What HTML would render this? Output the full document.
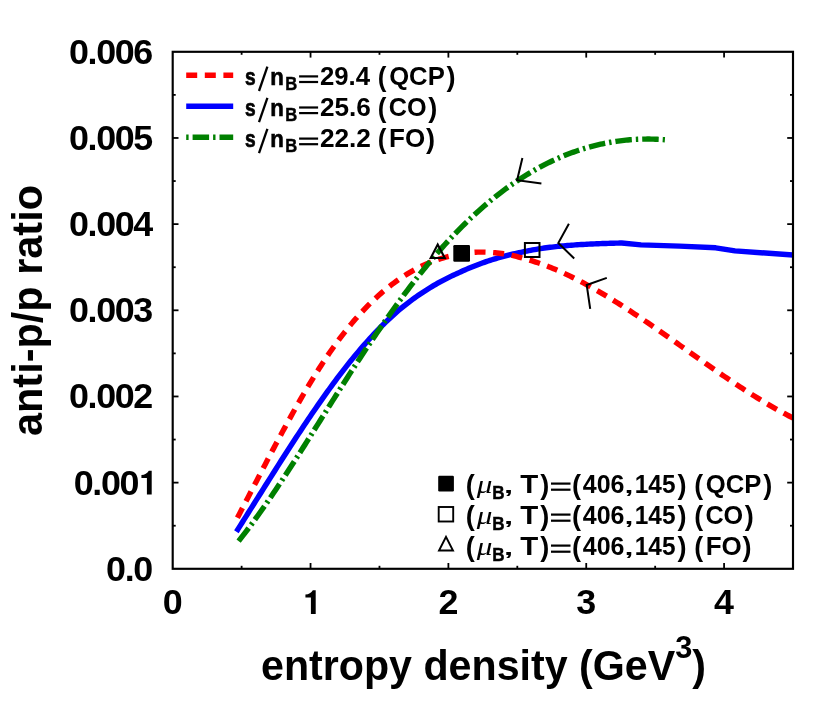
<!DOCTYPE html>
<html><head><meta charset="utf-8"><title>anti-p/p ratio vs entropy density</title>
<style>
html,body{margin:0;padding:0;background:#fff;}
body{width:830px;height:726px;overflow:hidden;font-family:"Liberation Sans",sans-serif;}
svg{display:block;will-change:transform;}
svg text{font-family:"Liberation Sans",sans-serif;font-weight:bold;fill:#000;}
</style></head>
<body>
<svg width="830" height="726" viewBox="0 0 830 726">
<rect x="0" y="0" width="830" height="726" fill="#fff"/>
<!-- curves -->
<defs><clipPath id="plotclip"><rect x="172.7" y="51.8" width="620.3" height="517.0"/></clipPath></defs>
<g fill="none" stroke-linejoin="round" clip-path="url(#plotclip)">
<path d="M236.40,531.71 L238.34,528.64 L240.27,525.58 L242.21,522.51 L244.14,519.43 L246.08,516.36 L248.02,513.28 L249.95,510.19 L251.89,507.11 L253.83,504.03 L255.76,500.94 L257.70,497.86 L259.63,494.77 L261.57,491.69 L263.51,488.61 L265.44,485.53 L267.38,482.46 L269.32,479.39 L271.25,476.32 L273.19,473.26 L275.12,470.20 L277.06,467.15 L279.00,464.10 L280.93,461.06 L282.87,458.03 L284.80,455.01 L286.74,452.00 L288.68,448.99 L290.61,446.00 L292.55,443.01 L294.49,440.04 L296.42,437.07 L298.36,434.12 L300.29,431.18 L302.23,428.26 L304.17,425.35 L306.10,422.45 L308.04,419.57 L309.97,416.70 L311.91,413.85 L313.85,411.01 L315.78,408.19 L317.72,405.39 L319.66,402.61 L321.59,399.85 L323.53,397.10 L325.46,394.38 L327.40,391.67 L329.34,388.99 L331.27,386.33 L333.21,383.69 L335.15,381.07 L337.08,378.47 L339.02,375.90 L340.95,373.36 L342.89,370.83 L344.83,368.34 L346.76,365.87 L348.70,363.42 L350.63,361.01 L352.57,358.62 L354.51,356.26 L356.44,353.92 L358.38,351.62 L360.32,349.34 L362.25,347.09 L364.19,344.87 L366.12,342.68 L368.06,340.52 L370.00,338.38 L371.93,336.28 L373.87,334.21 L375.81,332.16 L377.74,330.15 L379.68,328.16 L381.61,326.21 L383.55,324.29 L385.49,322.40 L387.42,320.54 L389.36,318.71 L391.29,316.91 L393.23,315.14 L395.17,313.40 L397.10,311.70 L399.04,310.02 L400.98,308.40 L402.91,306.83 L404.85,305.29 L406.78,303.78 L408.72,302.30 L410.66,300.85 L412.59,299.42 L414.53,298.02 L416.46,296.65 L418.40,295.30 L420.34,293.98 L422.27,292.69 L424.21,291.42 L426.15,290.17 L428.08,288.95 L430.02,287.76 L431.95,286.58 L433.89,285.43 L435.83,284.31 L437.76,283.20 L439.70,282.12 L441.64,281.07 L443.57,280.05 L445.51,279.05 L447.44,278.07 L449.38,277.11 L451.32,276.17 L453.25,275.26 L455.19,274.36 L457.12,273.48 L459.06,272.59 L461.00,271.69 L462.93,270.81 L464.87,269.95 L466.81,269.10 L468.74,268.28 L470.68,267.47 L472.61,266.69 L474.55,265.92 L476.49,265.17 L478.42,264.43 L480.36,263.72 L482.29,263.02 L484.23,262.34 L486.17,261.67 L488.10,261.02 L490.04,260.39 L491.98,259.77 L493.91,259.18 L495.85,258.59 L497.78,258.02 L499.72,257.47 L501.66,256.93 L503.59,256.41 L505.53,255.90 L507.47,255.40 L509.40,254.92 L511.34,254.46 L513.27,254.00 L515.21,253.56 L517.15,253.14 L519.08,252.72 L521.02,252.31 L522.95,251.89 L524.89,251.48 L526.83,251.09 L528.76,250.70 L530.70,250.33 L532.64,249.97 L534.57,249.63 L536.51,249.29 L538.44,248.96 L540.38,248.64 L542.32,248.34 L544.25,248.04 L546.19,247.77 L548.13,247.53 L550.06,247.29 L552.00,247.06 L553.93,246.84 L555.87,246.62 L557.81,246.42 L559.74,246.23 L561.68,246.04 L563.61,245.86 L565.55,245.69 L567.49,245.52 L569.42,245.37 L571.36,245.22 L573.30,245.07 L575.23,244.93 L577.17,244.80 L579.10,244.68 L581.04,244.56 L582.98,244.44 L584.91,244.34 L586.85,244.23 L588.78,244.13 L590.72,244.04 L592.66,243.95 L594.59,243.87 L596.53,243.78 L598.47,243.71 L600.40,243.63 L602.34,243.56 L604.27,243.49 L606.21,243.43 L608.15,243.37 L610.08,243.31 L612.02,243.25 L613.96,243.19 L615.89,243.14 L617.83,243.09 L619.76,243.03 L621.70,242.98 L641.00,244.90 L679.50,246.10 L715.70,247.80 L735.00,250.90 L793.40,255.00" stroke="#0000ff" stroke-width="5.4"/>
<path d="M237.40,517.82 L239.55,513.71 L241.69,509.59 L243.84,505.46 L245.99,501.32 L248.13,497.19 L250.28,493.05 L252.43,488.91 L254.57,484.78 L256.72,480.65 L258.87,476.52 L261.01,472.40 L263.16,468.28 L265.31,464.18 L267.45,460.08 L269.60,456.00 L271.75,451.93 L273.89,447.87 L276.04,443.84 L278.19,439.81 L280.33,435.81 L282.48,431.83 L284.63,427.88 L286.77,423.94 L288.92,420.03 L291.07,416.15 L293.21,412.30 L295.36,408.47 L297.51,404.68 L299.65,400.92 L301.80,397.20 L303.95,393.51 L306.09,389.85 L308.24,386.24 L310.39,382.67 L312.54,379.13 L314.68,375.64 L316.83,372.20 L318.98,368.80 L321.12,365.45 L323.27,362.15 L325.42,358.90 L327.56,355.70 L329.71,352.56 L331.86,349.47 L334.00,346.43 L336.15,343.45 L338.30,340.53 L340.44,337.66 L342.59,334.85 L344.74,332.09 L346.88,329.38 L349.03,326.73 L351.18,324.13 L353.32,321.58 L355.47,319.09 L357.62,316.65 L359.76,314.26 L361.91,311.92 L364.06,309.64 L366.20,307.40 L368.35,305.21 L370.50,303.08 L372.64,300.99 L374.79,298.96 L376.94,296.97 L379.08,295.03 L381.23,293.14 L383.38,291.30 L385.52,289.51 L387.67,287.76 L389.82,286.06 L391.96,284.41 L394.11,282.80 L396.26,281.24 L398.40,279.73 L400.55,278.26 L402.70,276.83 L404.84,275.45 L406.99,274.12 L409.14,272.82 L411.28,271.58 L413.43,270.37 L415.58,269.21 L417.72,268.09 L419.87,267.01 L422.02,265.98 L424.16,264.98 L426.31,264.03 L428.46,263.12 L430.60,262.25 L432.75,261.42 L434.90,260.63 L437.04,259.88 L439.19,259.16 L441.34,258.49 L443.48,257.85 L445.63,257.26 L447.78,256.70 L449.93,256.18 L452.07,255.69 L454.22,255.24 L456.37,254.80 L458.51,254.37 L460.66,253.98 L462.81,253.62 L464.95,253.29 L467.10,253.01 L469.25,252.75 L471.39,252.53 L473.54,252.35 L475.69,252.21 L477.83,252.14 L479.98,252.11 L482.13,252.11 L484.27,252.14 L486.42,252.20 L488.57,252.29 L490.71,252.42 L492.86,252.57 L495.01,252.76 L497.15,252.97 L499.30,253.22 L501.45,253.49 L503.59,253.79 L505.74,254.14 L507.89,254.55 L510.03,255.00 L512.18,255.46 L514.33,255.96 L516.47,256.48 L518.62,257.03 L520.77,257.61 L522.91,258.21 L525.06,258.83 L527.21,259.43 L529.35,260.05 L531.50,260.70 L533.65,261.37 L535.79,262.07 L537.94,262.78 L540.09,263.53 L542.23,264.29 L544.38,265.08 L546.53,265.89 L548.67,266.72 L550.82,267.57 L552.97,268.44 L555.11,269.34 L557.26,270.25 L559.41,271.19 L561.55,272.14 L563.70,273.11 L565.85,274.11 L567.99,275.12 L570.14,276.15 L572.29,277.20 L574.43,278.26 L576.58,279.34 L578.73,280.44 L580.87,281.56 L583.02,282.69 L585.17,283.84 L587.32,285.01 L589.46,286.19 L591.61,287.38 L593.76,288.59 L595.90,289.82 L598.05,291.05 L600.20,292.31 L602.34,293.57 L604.49,294.85 L606.64,296.14 L608.78,297.44 L610.93,298.76 L613.08,300.08 L615.22,301.42 L617.37,302.77 L619.52,304.13 L621.66,305.50 L623.81,306.88 L625.96,308.27 L628.10,309.66 L630.25,311.07 L632.40,312.49 L634.54,313.91 L636.69,315.34 L638.84,316.78 L640.98,318.23 L643.13,319.68 L645.28,321.14 L647.42,322.60 L649.57,324.08 L651.72,325.55 L653.86,327.03 L656.01,328.52 L658.16,330.01 L660.30,331.51 L662.45,333.01 L664.60,334.51 L666.74,336.02 L668.89,337.53 L671.04,339.04 L673.18,340.55 L675.33,342.07 L677.48,343.58 L679.62,345.10 L681.77,346.62 L683.92,348.14 L686.06,349.66 L688.21,351.18 L690.36,352.69 L692.50,354.21 L694.65,355.73 L696.80,357.24 L698.94,358.75 L701.09,360.26 L703.24,361.77 L705.38,363.27 L707.53,364.78 L709.68,366.27 L711.82,367.77 L713.97,369.25 L716.12,370.74 L718.26,372.22 L720.41,373.69 L722.56,375.16 L724.71,376.62 L726.85,378.08 L729.00,379.53 L731.15,380.97 L733.29,382.40 L735.44,383.83 L737.59,385.25 L739.73,386.66 L741.88,388.06 L744.03,389.46 L746.17,390.84 L748.32,392.21 L750.47,393.58 L752.61,394.93 L754.76,396.27 L756.91,397.60 L759.05,398.92 L761.20,400.23 L763.35,401.53 L765.49,402.81 L767.64,404.08 L769.79,405.34 L771.93,406.58 L774.08,407.81 L776.23,409.03 L778.37,410.23 L780.52,411.42 L782.67,412.59 L784.81,413.74 L786.96,414.88 L789.11,416.01 L791.25,417.11 L793.40,418.20" stroke="#ff0000" stroke-width="5.4" stroke-dasharray="11 7.6"/>
<path d="M238.60,541.07 L240.55,538.61 L242.49,536.13 L244.44,533.61 L246.39,531.07 L248.33,528.50 L250.28,525.90 L252.23,523.27 L254.17,520.62 L256.12,517.94 L258.07,515.24 L260.01,512.51 L261.96,509.76 L263.91,506.99 L265.85,504.20 L267.80,501.39 L269.75,498.55 L271.69,495.70 L273.64,492.83 L275.58,489.94 L277.53,487.04 L279.48,484.11 L281.42,481.17 L283.37,478.22 L285.32,475.25 L287.26,472.27 L289.21,469.28 L291.16,466.27 L293.10,463.26 L295.05,460.23 L297.00,457.19 L298.94,454.15 L300.89,451.09 L302.84,448.03 L304.78,444.96 L306.73,441.88 L308.68,438.80 L310.62,435.72 L312.57,432.63 L314.52,429.54 L316.46,426.44 L318.41,423.34 L320.36,420.25 L322.30,417.15 L324.25,414.05 L326.20,410.95 L328.14,407.86 L330.09,404.77 L332.04,401.68 L333.98,398.60 L335.93,395.52 L337.88,392.44 L339.82,389.38 L341.77,386.32 L343.72,383.26 L345.66,380.22 L347.61,377.18 L349.55,374.16 L351.50,371.14 L353.45,368.14 L355.39,365.15 L357.34,362.16 L359.29,359.19 L361.23,356.23 L363.18,353.29 L365.13,350.35 L367.07,347.43 L369.02,344.52 L370.97,341.62 L372.91,338.74 L374.86,335.87 L376.81,333.02 L378.75,330.18 L380.70,327.35 L382.65,324.54 L384.59,321.75 L386.54,318.97 L388.49,316.20 L390.43,313.46 L392.38,310.73 L394.33,308.02 L396.27,305.32 L398.22,302.64 L400.17,299.98 L402.11,297.34 L404.06,294.72 L406.01,292.12 L407.95,289.53 L409.90,286.97 L411.85,284.42 L413.79,281.90 L415.74,279.39 L417.68,276.91 L419.63,274.45 L421.58,272.01 L423.52,269.59 L425.47,267.19 L427.42,264.82 L429.36,262.46 L431.31,260.13 L433.26,257.83 L435.20,255.55 L437.15,253.29 L439.10,251.05 L441.04,248.85 L442.99,246.66 L444.94,244.50 L446.88,242.36 L448.83,240.25 L450.78,238.16 L452.72,236.10 L454.67,234.06 L456.62,232.04 L458.56,230.05 L460.51,228.08 L462.46,226.13 L464.40,224.21 L466.35,222.31 L468.30,220.44 L470.24,218.59 L472.19,216.76 L474.14,214.96 L476.08,213.17 L478.03,211.41 L479.98,209.68 L481.92,207.97 L483.87,206.28 L485.82,204.61 L487.76,202.97 L489.71,201.35 L491.65,199.75 L493.60,198.17 L495.55,196.62 L497.49,195.09 L499.44,193.58 L501.39,192.09 L503.33,190.63 L505.28,189.18 L507.23,187.76 L509.17,186.36 L511.12,184.99 L513.07,183.63 L515.01,182.30 L516.96,180.99 L518.91,179.70 L520.85,178.43 L522.80,177.19 L524.75,175.96 L526.69,174.76 L528.64,173.58 L530.59,172.42 L532.53,171.28 L534.48,170.16 L536.43,169.06 L538.37,167.99 L540.32,166.93 L542.27,165.90 L544.21,164.88 L546.16,163.89 L548.11,162.92 L550.05,161.97 L552.00,161.03 L553.95,160.12 L555.89,159.23 L557.84,158.36 L559.78,157.51 L561.73,156.68 L563.68,155.87 L565.62,155.08 L567.57,154.31 L569.52,153.56 L571.46,152.83 L573.41,152.12 L575.36,151.43 L577.30,150.76 L579.25,150.11 L581.20,149.48 L583.14,148.86 L585.09,148.27 L587.04,147.69 L588.98,147.14 L590.93,146.60 L592.88,146.09 L594.82,145.59 L596.77,145.11 L598.72,144.65 L600.66,144.21 L602.61,143.79 L604.56,143.38 L606.50,143.00 L608.45,142.63 L610.40,142.28 L612.34,141.95 L614.29,141.64 L616.24,141.34 L618.18,141.07 L620.13,140.81 L622.08,140.57 L624.02,140.35 L625.97,140.15 L627.92,139.96 L629.86,139.79 L631.81,139.64 L633.75,139.51 L635.70,139.39 L637.65,139.30 L639.59,139.22 L641.54,139.15 L643.49,139.11 L645.43,139.08 L647.38,139.07 L649.33,139.07 L651.27,139.09 L653.22,139.13 L655.17,139.19 L657.11,139.26 L659.06,139.35 L661.01,139.46 L662.95,139.58 L664.90,139.72" stroke="#008000" stroke-width="5.4" stroke-dasharray="16.5 4 2.4 4"/>
</g>
<!-- frame -->
<rect x="172.7" y="51.8" width="620.3" height="517.0" fill="none" stroke="#000" stroke-width="2.15"/>
<g stroke="#000" stroke-width="1.8">
<line x1="241.62" y1="568.8" x2="241.62" y2="565.8"/>
<line x1="241.62" y1="51.8" x2="241.62" y2="54.8"/>
<line x1="310.54" y1="568.8" x2="310.54" y2="563.0"/>
<line x1="310.54" y1="51.8" x2="310.54" y2="57.599999999999994"/>
<line x1="379.47" y1="568.8" x2="379.47" y2="565.8"/>
<line x1="379.47" y1="51.8" x2="379.47" y2="54.8"/>
<line x1="448.39" y1="568.8" x2="448.39" y2="563.0"/>
<line x1="448.39" y1="51.8" x2="448.39" y2="57.599999999999994"/>
<line x1="517.31" y1="568.8" x2="517.31" y2="565.8"/>
<line x1="517.31" y1="51.8" x2="517.31" y2="54.8"/>
<line x1="586.23" y1="568.8" x2="586.23" y2="563.0"/>
<line x1="586.23" y1="51.8" x2="586.23" y2="57.599999999999994"/>
<line x1="655.16" y1="568.8" x2="655.16" y2="565.8"/>
<line x1="655.16" y1="51.8" x2="655.16" y2="54.8"/>
<line x1="724.08" y1="568.8" x2="724.08" y2="563.0"/>
<line x1="724.08" y1="51.8" x2="724.08" y2="57.599999999999994"/>
<line x1="172.7" y1="525.72" x2="175.7" y2="525.72"/>
<line x1="793.0" y1="525.72" x2="790.0" y2="525.72"/>
<line x1="172.7" y1="482.63" x2="178.5" y2="482.63"/>
<line x1="793.0" y1="482.63" x2="787.2" y2="482.63"/>
<line x1="172.7" y1="439.55" x2="175.7" y2="439.55"/>
<line x1="793.0" y1="439.55" x2="790.0" y2="439.55"/>
<line x1="172.7" y1="396.47" x2="178.5" y2="396.47"/>
<line x1="793.0" y1="396.47" x2="787.2" y2="396.47"/>
<line x1="172.7" y1="353.38" x2="175.7" y2="353.38"/>
<line x1="793.0" y1="353.38" x2="790.0" y2="353.38"/>
<line x1="172.7" y1="310.30" x2="178.5" y2="310.30"/>
<line x1="793.0" y1="310.30" x2="787.2" y2="310.30"/>
<line x1="172.7" y1="267.22" x2="175.7" y2="267.22"/>
<line x1="793.0" y1="267.22" x2="790.0" y2="267.22"/>
<line x1="172.7" y1="224.13" x2="178.5" y2="224.13"/>
<line x1="793.0" y1="224.13" x2="787.2" y2="224.13"/>
<line x1="172.7" y1="181.05" x2="175.7" y2="181.05"/>
<line x1="793.0" y1="181.05" x2="790.0" y2="181.05"/>
<line x1="172.7" y1="137.97" x2="178.5" y2="137.97"/>
<line x1="793.0" y1="137.97" x2="787.2" y2="137.97"/>
<line x1="172.7" y1="94.88" x2="175.7" y2="94.88"/>
<line x1="793.0" y1="94.88" x2="790.0" y2="94.88"/>
</g>
<!-- markers on curves -->
<rect x="453.3" y="245.0" width="16.7" height="16.7" rx="1.2" fill="#000"/>
<rect x="524.9" y="243.0" width="14.6" height="14.0" fill="none" stroke="#000" stroke-width="2.0"/>
<path d="M437.7,244.5 L444.8,258.0 L430.7,258.0 Z" fill="none" stroke="#000" stroke-width="2.1"/>
<!-- arrows -->
<g fill="none" stroke="#000" stroke-width="2.0" stroke-linejoin="miter">
<path d="M522.4,157.9 L517.1,180.2 L541.4,183.6"/>
<path d="M568.9,223.8 L558.3,243.0 L574.2,258.5"/>
<path d="M606.8,277.9 L586.7,285.0 L590.2,308.9"/>
</g>
<!-- top legend -->
<g fill="none" stroke-width="5.4">
<line x1="186.2" y1="75.2" x2="233.2" y2="75.2" stroke="#ff0000" stroke-dasharray="11 7.6"/>
<line x1="186.2" y1="106.2" x2="233.2" y2="106.2" stroke="#0000ff"/>
<line x1="186.2" y1="137.3" x2="233.2" y2="137.3" stroke="#008000" stroke-dasharray="16.5 4 2.4 4" stroke-dashoffset="20.5"/>
</g>
<!-- bottom legend markers -->
<rect x="438.2" y="475.8" width="15.7" height="15.7" rx="1.2" fill="#000"/>
<rect x="438.7" y="507.0" width="14.5" height="14.5" fill="none" stroke="#000" stroke-width="1.9"/>
<path d="M446.0,536.9 L452.9,550.4 L439.1,550.4 Z" fill="none" stroke="#000" stroke-width="2.0"/>
<!-- legend text -->
<text transform="translate(245.03,84.57) scale(0.7986,0.9589)" font-size="24" stroke="#000" stroke-width="0.7">s</text>
<line x1="259.0" y1="91.0" x2="267.4" y2="66.7" stroke="#000" stroke-width="2.3"/>
<text transform="translate(270.25,84.80) scale(0.9278,0.9767)" font-size="24" stroke="#000" stroke-width="0.6">n</text>
<text transform="translate(285.18,89.70) scale(0.6899,0.7394)" font-size="24" stroke="#000" stroke-width="0.6">B</text>
<rect x="299.1" y="75.30" width="19.0" height="2.2" fill="#000"/><rect x="299.1" y="80.90" width="19.0" height="2.2" fill="#000"/>
<text transform="translate(319.90,84.84) scale(1.0739,1.0777)" font-size="24">29.4</text>
<text transform="translate(377.80,85.98) scale(1.0863,1.1483)" font-size="24">(</text>
<text transform="translate(389.17,84.80) scale(1.0693,1.0606)" font-size="24">QCP</text>
<text transform="translate(446.53,85.98) scale(1.1310,1.1483)" font-size="24">)</text>
<text transform="translate(245.03,115.67) scale(0.7986,0.9589)" font-size="24" stroke="#000" stroke-width="0.7">s</text>
<line x1="259.0" y1="122.1" x2="267.4" y2="97.8" stroke="#000" stroke-width="2.3"/>
<text transform="translate(270.25,115.90) scale(0.9278,0.9767)" font-size="24" stroke="#000" stroke-width="0.6">n</text>
<text transform="translate(285.18,120.80) scale(0.6899,0.7394)" font-size="24" stroke="#000" stroke-width="0.6">B</text>
<rect x="299.1" y="106.40" width="19.0" height="2.2" fill="#000"/><rect x="299.1" y="112.00" width="19.0" height="2.2" fill="#000"/>
<text transform="translate(319.88,115.94) scale(1.0911,1.0777)" font-size="24">25.6</text>
<text transform="translate(377.80,117.08) scale(1.0863,1.1483)" font-size="24">(</text>
<text transform="translate(388.79,115.90) scale(1.0494,1.0606)" font-size="24">CO</text>
<text transform="translate(428.23,117.08) scale(1.1310,1.1483)" font-size="24">)</text>
<text transform="translate(245.03,146.77) scale(0.7986,0.9589)" font-size="24" stroke="#000" stroke-width="0.7">s</text>
<line x1="259.0" y1="153.2" x2="267.4" y2="128.9" stroke="#000" stroke-width="2.3"/>
<text transform="translate(270.25,147.00) scale(0.9278,0.9767)" font-size="24" stroke="#000" stroke-width="0.6">n</text>
<text transform="translate(285.18,151.90) scale(0.6899,0.7394)" font-size="24" stroke="#000" stroke-width="0.6">B</text>
<rect x="299.1" y="137.50" width="19.0" height="2.2" fill="#000"/><rect x="299.1" y="143.10" width="19.0" height="2.2" fill="#000"/>
<text transform="translate(319.88,147.30) scale(1.0940,1.0932)" font-size="24">22.2</text>
<text transform="translate(377.80,148.18) scale(1.0863,1.1483)" font-size="24">(</text>
<text transform="translate(389.05,147.00) scale(1.0828,1.0606)" font-size="24">FO</text>
<text transform="translate(425.93,148.18) scale(1.1310,1.1483)" font-size="24">)</text>
<text transform="translate(465.64,494.03) scale(1.1310,1.1796)" font-size="24">(</text>
<text transform="translate(476.80,493.41) scale(1.2492,0.9659)" font-size="25" style="font-family:'Liberation Serif',serif;font-style:italic;font-weight:normal">μ</text>
<text transform="translate(492.15,498.50) scale(0.7104,0.7333)" font-size="24" stroke="#000" stroke-width="0.6">B</text>
<text transform="translate(504.10,493.10) scale(1.3690,0.8333)" font-size="24">,</text>
<text transform="translate(520.21,492.90) scale(1.2288,1.0606)" font-size="24">T</text>
<text transform="translate(540.13,494.03) scale(1.1310,1.1796)" font-size="24">)</text>
<rect x="551.0" y="482.50" width="19.5" height="2.2" fill="#000"/><rect x="551.0" y="488.60" width="19.5" height="2.2" fill="#000"/>
<text transform="translate(572.04,494.03) scale(1.1310,1.1796)" font-size="24">(</text>
<text transform="translate(582.83,492.94) scale(1.0407,1.0718)" font-size="24">406</text>
<text transform="translate(624.55,493.10) scale(1.3393,0.8333)" font-size="24">,</text>
<text transform="translate(634.77,492.94) scale(1.0169,1.0693)" font-size="24">145</text>
<text transform="translate(677.43,494.03) scale(1.1310,1.1796)" font-size="24">)</text>
<text transform="translate(694.36,494.03) scale(1.1161,1.1796)" font-size="24">(</text>
<text transform="translate(705.77,492.90) scale(1.0693,1.0606)" font-size="24">QCP</text>
<text transform="translate(763.13,494.03) scale(1.1310,1.1796)" font-size="24">)</text>
<text transform="translate(465.64,525.03) scale(1.1310,1.1796)" font-size="24">(</text>
<text transform="translate(476.80,524.41) scale(1.2492,0.9659)" font-size="25" style="font-family:'Liberation Serif',serif;font-style:italic;font-weight:normal">μ</text>
<text transform="translate(492.15,529.50) scale(0.7104,0.7333)" font-size="24" stroke="#000" stroke-width="0.6">B</text>
<text transform="translate(504.10,524.10) scale(1.3690,0.8333)" font-size="24">,</text>
<text transform="translate(520.21,523.90) scale(1.2288,1.0606)" font-size="24">T</text>
<text transform="translate(540.13,525.03) scale(1.1310,1.1796)" font-size="24">)</text>
<rect x="551.0" y="513.50" width="19.5" height="2.2" fill="#000"/><rect x="551.0" y="519.60" width="19.5" height="2.2" fill="#000"/>
<text transform="translate(572.04,525.03) scale(1.1310,1.1796)" font-size="24">(</text>
<text transform="translate(582.83,523.94) scale(1.0407,1.0718)" font-size="24">406</text>
<text transform="translate(624.55,524.10) scale(1.3393,0.8333)" font-size="24">,</text>
<text transform="translate(634.77,523.94) scale(1.0169,1.0693)" font-size="24">145</text>
<text transform="translate(677.43,525.03) scale(1.1310,1.1796)" font-size="24">)</text>
<text transform="translate(694.36,525.03) scale(1.1161,1.1796)" font-size="24">(</text>
<text transform="translate(705.39,523.90) scale(1.0494,1.0606)" font-size="24">CO</text>
<text transform="translate(744.83,525.03) scale(1.1310,1.1796)" font-size="24">)</text>
<text transform="translate(465.64,556.03) scale(1.1310,1.1796)" font-size="24">(</text>
<text transform="translate(476.80,555.41) scale(1.2492,0.9659)" font-size="25" style="font-family:'Liberation Serif',serif;font-style:italic;font-weight:normal">μ</text>
<text transform="translate(492.15,560.50) scale(0.7104,0.7333)" font-size="24" stroke="#000" stroke-width="0.6">B</text>
<text transform="translate(504.10,555.10) scale(1.3690,0.8333)" font-size="24">,</text>
<text transform="translate(520.21,554.90) scale(1.2288,1.0606)" font-size="24">T</text>
<text transform="translate(540.13,556.03) scale(1.1310,1.1796)" font-size="24">)</text>
<rect x="551.0" y="544.50" width="19.5" height="2.2" fill="#000"/><rect x="551.0" y="550.60" width="19.5" height="2.2" fill="#000"/>
<text transform="translate(572.04,556.03) scale(1.1310,1.1796)" font-size="24">(</text>
<text transform="translate(582.83,554.94) scale(1.0407,1.0718)" font-size="24">406</text>
<text transform="translate(624.55,555.10) scale(1.3393,0.8333)" font-size="24">,</text>
<text transform="translate(634.77,554.94) scale(1.0169,1.0693)" font-size="24">145</text>
<text transform="translate(677.43,556.03) scale(1.1310,1.1796)" font-size="24">)</text>
<text transform="translate(694.36,556.03) scale(1.1161,1.1796)" font-size="24">(</text>
<text transform="translate(705.65,554.90) scale(1.0828,1.0606)" font-size="24">FO</text>
<text transform="translate(742.53,556.03) scale(1.1310,1.1796)" font-size="24">)</text>
<!-- tick labels -->
<text transform="translate(151.9,580.78) scale(1.12,1.09)" text-anchor="end" font-size="32" letter-spacing="-1.2">0.0</text>
<text transform="translate(138.10,494.61) scale(1.12,1.09)" text-anchor="end" font-size="32" letter-spacing="-1.2">0.00</text>
<path d="M151.70,494.41 L146.91,494.41 L146.91,478.02 L141.43,478.02 L141.43,474.96 Q146.47,474.76 148.84,470.71 L151.70,470.71 Z" fill="#000"/>
<text transform="translate(151.9,408.45) scale(1.12,1.09)" text-anchor="end" font-size="32" letter-spacing="-1.2">0.002</text>
<text transform="translate(151.9,322.28) scale(1.12,1.09)" text-anchor="end" font-size="32" letter-spacing="-1.2">0.003</text>
<text transform="translate(151.9,236.11) scale(1.12,1.09)" text-anchor="end" font-size="32" letter-spacing="-1.2">0.004</text>
<text transform="translate(151.9,149.95) scale(1.12,1.09)" text-anchor="end" font-size="32" letter-spacing="-1.2">0.005</text>
<text transform="translate(151.9,63.78) scale(1.12,1.09)" text-anchor="end" font-size="32" letter-spacing="-1.2">0.006</text>
<text transform="translate(172.70,614.1) scale(1.12,1.09)" text-anchor="middle" font-size="32">0</text>
<path d="M315.70,613.90 L310.91,613.90 L310.91,597.51 L305.43,597.51 L305.43,594.45 Q310.47,594.25 312.84,590.20 L315.70,590.20 Z" fill="#000"/>
<text transform="translate(448.39,614.1) scale(1.12,1.09)" text-anchor="middle" font-size="32">2</text>
<text transform="translate(586.23,614.1) scale(1.12,1.09)" text-anchor="middle" font-size="32">3</text>
<text transform="translate(724.08,614.1) scale(1.12,1.09)" text-anchor="middle" font-size="32">4</text>
<!-- axis titles -->
<text transform="translate(261,679.5) scale(1,1.03)" font-size="41.5" textLength="445" lengthAdjust="spacingAndGlyphs">entropy density (GeV<tspan font-size="31" dy="-20.5">3</tspan><tspan dy="20.5">)</tspan></text>
<text transform="translate(41.6,436) rotate(-90) scale(1,1.03)" font-size="41.5" textLength="251" lengthAdjust="spacingAndGlyphs">anti-p/p ratio</text>
</svg>
</body></html>
